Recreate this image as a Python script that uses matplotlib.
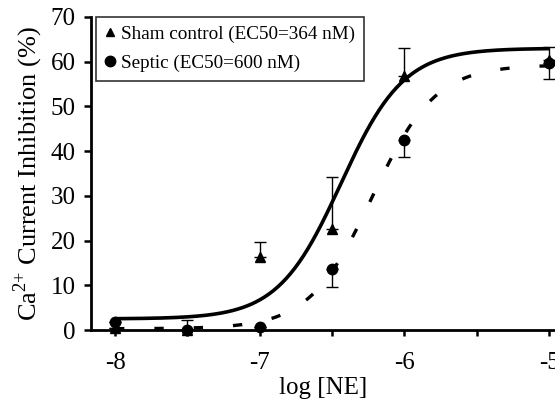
import numpy as np
import matplotlib
matplotlib.use("Agg")
import matplotlib.pyplot as plt
from matplotlib.lines import Line2D

plt.rcParams['font.family'] = ['Liberation Serif', 'DejaVu Serif']
plt.rcParams['mathtext.fontset'] = 'custom'
plt.rcParams['mathtext.rm'] = 'Liberation Serif'
plt.rcParams['axes.unicode_minus'] = False

# Data
log_ne = [-8.0, -7.5, -7.0, -6.5, -6.0, -5.0]
sham_mean = [0.5, 0.0, 16.3, 22.7, 56.9, 60.3]
sham_err_up = [0.0, 2.2, 3.4, 11.5, 6.1, 3.0]
septic_mean = [1.8, 0.0, 0.6, 13.6, 42.4, 59.6]
septic_err_dn = [0.0, 0.0, 0.0, 3.9, 3.8, 3.4]

# Fitted Hill parameters (bottom, top, logEC50, slope)
sham_fit = dict(bottom=2.5, top=63.0, logec50=np.log10(364e-9), slope=2.0)
septic_fit = dict(bottom=0.3, top=59.3, logec50=np.log10(600e-9), slope=2.0)

legend_labels = ["Sham control (EC50=364 nM)", "Septic (EC50=600 nM)"]
x_ticks = [-8, -7.5, -7, -6.5, -6, -5.5, -5]
x_ticklabels = ["-8", "", "-7", "", "-6", "", "-5"]
y_ticks = [0, 10, 20, 30, 40, 50, 60, 70]


def hill(x, bottom, top, logec50, slope):
    return bottom + (top - bottom) / (1 + 10 ** ((logec50 - x) * slope))


fig = plt.figure(figsize=(5.55, 4.04), dpi=100)
ax = fig.add_axes([0.164, 0.183, 0.836, 0.775])

xs = np.linspace(-8, -5, 300)
ax.plot(xs, hill(xs, **sham_fit), color='black', lw=2.6, solid_capstyle='butt', zorder=2)
ax.plot(xs, hill(xs, **septic_fit), color='black', lw=2.4, dashes=(2.8, 9.0),
        dash_capstyle='butt', zorder=2)

ax.errorbar(log_ne, sham_mean, yerr=[np.zeros(len(sham_err_up)), sham_err_up],
            fmt='^', color='black', ms=7, elinewidth=1.0, capsize=4.0, capthick=1.0,
            clip_on=False, zorder=3)
ax.errorbar(log_ne, septic_mean, yerr=[septic_err_dn, np.zeros(len(septic_err_dn))],
            fmt='o', color='black', ms=7.5, elinewidth=1.0, capsize=4.0, capthick=1.0,
            clip_on=False, zorder=3)

ax.set_xlim(-8.166, -4.959)
ax.set_ylim(0, 70)
ax.set_xticks(x_ticks)
ax.set_xticklabels(x_ticklabels)
ax.set_yticks(y_ticks)

for s in ['top', 'right']:
    ax.spines[s].set_visible(False)
for s in ['left', 'bottom']:
    ax.spines[s].set_linewidth(2.0)

ax.tick_params(axis='both', direction='out', width=1.8, labelsize=18, color='black')
ax.tick_params(axis='x', length=4, pad=12)
ax.tick_params(axis='y', length=5, pad=6)

ax.set_xlabel("log [NE]", fontsize=18, labelpad=2)
ax.set_ylabel("Ca$^{2{+}}$ Current Inhibition (%)", fontsize=19, labelpad=4)

handles = [Line2D([], [], marker='^', color='black', ls='none', ms=6),
           Line2D([], [], marker='o', color='black', ls='none', ms=7.5)]
leg = ax.legend(handles, legend_labels, loc='upper left', bbox_to_anchor=(0.011, 1.0),
                fontsize=13.8, frameon=True, fancybox=False, handlelength=0.6,
                handletextpad=0.25, borderpad=0.45, labelspacing=0.6, borderaxespad=0)
leg.get_frame().set_edgecolor('black')
leg.get_frame().set_linewidth(1.2)

fig.savefig("out.png", dpi=100)
